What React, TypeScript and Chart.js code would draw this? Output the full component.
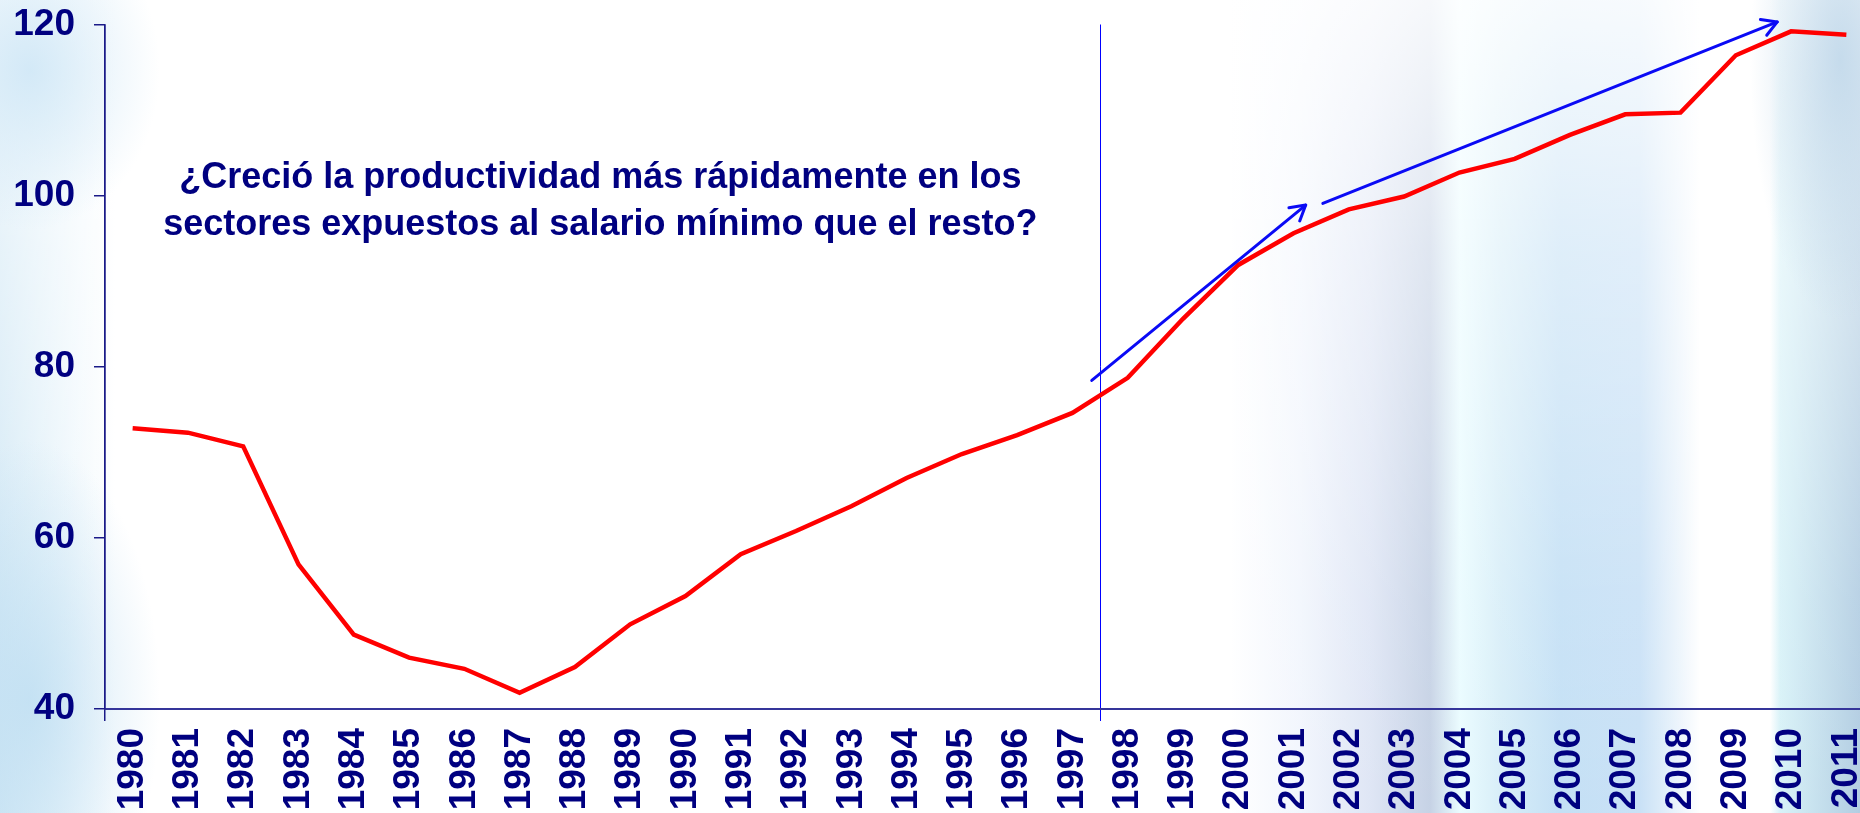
import React, { useEffect, useRef } from "react";
import { Chart, registerables } from "chart.js";

Chart.register(...registerables);

const years = [
  "1980", "1981", "1982", "1983", "1984", "1985", "1986", "1987", "1988", "1989",
  "1990", "1991", "1992", "1993", "1994", "1995", "1996", "1997", "1998", "1999",
  "2000", "2001", "2002", "2003", "2004", "2005", "2006", "2007", "2008", "2009",
  "2010", "2011",
];

const productivity = [
  72.8, 72.3, 70.7, 56.9, 48.7, 46.0, 44.7, 41.9, 44.9, 49.9,
  53.2, 58.1, 60.8, 63.7, 67.0, 69.8, 72.0, 74.6, 78.7, 85.6,
  91.9, 95.6, 98.4, 99.9, 102.7, 104.3, 107.1, 109.5, 109.7, 116.4,
  119.2, 118.8,
];

const yMin = 40;
const yMax = 120;
const yStep = 20;

// boundary index (between 1997 and 1998) where the vertical divider sits
const dividerIndex = 18;

// arrows in data units: [category index, value]
const arrowFromX = [17.35, 21.53];
const arrowFromY = [78.4, 99.1];
const arrowToX = [21.22, 29.75];
const arrowToY = [98.9, 120.3];

const questionLines = [
  "¿Creció la productividad más rápidamente en los",
  "sectores expuestos al salario mínimo que el resto?",
];
const questionX = 8.46;
const questionY = 100.85;

const NAVY = "#000080";
const FONT = '"Liberation Sans", Arial, Helvetica, sans-serif';

const annotationPlugin = {
  id: "annotations",
  afterDatasetsDraw(chart: any) {
    const { ctx, scales } = chart;
    const xs = scales.x;
    const ys = scales.y;
    ctx.save();
    ctx.strokeStyle = "#0a0af5";
    ctx.lineWidth = 3;
    ctx.lineCap = "round";
    ctx.lineJoin = "round";
    for (let i = 0; i < arrowFromX.length; i++) {
      const x1 = xs.getPixelForValue(arrowFromX[i]);
      const y1 = ys.getPixelForValue(arrowFromY[i]);
      const x2 = xs.getPixelForValue(arrowToX[i]);
      const y2 = ys.getPixelForValue(arrowToY[i]);
      ctx.beginPath();
      ctx.moveTo(x1, y1);
      ctx.lineTo(x2, y2);
      ctx.stroke();
      const ang = Math.atan2(y2 - y1, x2 - x1);
      const head = 17;
      const spread = Math.PI / 6;
      ctx.beginPath();
      ctx.moveTo(x2 - head * Math.cos(ang - spread), y2 - head * Math.sin(ang - spread));
      ctx.lineTo(x2, y2);
      ctx.lineTo(x2 - head * Math.cos(ang + spread), y2 - head * Math.sin(ang + spread));
      ctx.stroke();
    }
    ctx.fillStyle = NAVY;
    ctx.font = `bold 36px ${FONT}`;
    ctx.textAlign = "center";
    ctx.textBaseline = "alphabetic";
    const cx = xs.getPixelForValue(questionX);
    const cy = ys.getPixelForValue(questionY);
    questionLines.forEach((line, i) => {
      ctx.fillText(line, cx, cy + i * 46.5);
    });
    ctx.restore();
  },
};

export default function App() {
  const canvasRef = useRef<HTMLCanvasElement | null>(null);

  useEffect(() => {
    if (!canvasRef.current) return;
    Chart.defaults.font.family = FONT;
    const chart = new Chart(canvasRef.current, {
      type: "line",
      data: {
        labels: years,
        datasets: [
          {
            data: productivity,
            borderColor: "#ff0000",
            borderWidth: 4.5,
            pointRadius: 0,
            tension: 0,
            fill: false,
          },
        ],
      },
      options: {
        animation: false,
        responsive: false,
        maintainAspectRatio: false,
        layout: { padding: { top: 24.5, left: 0, right: 0, bottom: 0 } },
        plugins: {
          legend: { display: false },
          tooltip: { enabled: false },
          title: { display: false },
        },
        scales: {
          x: {
            type: "category",
            offset: true,
            afterFit: (scale: any) => {
              scale.height = 104;
              scale.paddingLeft = 0;
              scale.paddingRight = 0;
              scale.paddingTop = 0;
              scale.paddingBottom = 0;
            },
            border: { display: true, color: "#35359a", width: 2 },
            grid: {
              offset: true,
              drawOnChartArea: true,
              drawTicks: true,
              tickLength: 12,
              color: (c: any) =>
                c.index === 0 ? "#1a1a88" : c.index === dividerIndex ? "#0000ff" : "rgba(0,0,0,0)",
              lineWidth: (c: any) => (c.index === 0 ? 1.5 : 1),
            },
            ticks: {
              autoSkip: false,
              maxRotation: 90,
              minRotation: 90,
              padding: 7,
              color: NAVY,
              font: { size: 37, weight: "bold", family: FONT },
            },
          },
          y: {
            min: yMin,
            max: yMax,
            afterFit: (scale: any) => {
              scale.width = 105;
              scale.paddingLeft = 0;
              scale.paddingRight = 0;
              scale.paddingTop = 0;
              scale.paddingBottom = 0;
            },
            border: { display: true, color: "#1a1a88", width: 1.5 },
            grid: {
              drawOnChartArea: false,
              drawTicks: true,
              tickLength: 11,
              color: "#1a1a88",
              lineWidth: 1.5,
            },
            ticks: {
              stepSize: yStep,
              padding: 19,
              color: NAVY,
              font: { size: 37, weight: "bold", family: FONT },
            },
          },
        },
      },
      plugins: [annotationPlugin],
    });
    return () => chart.destroy();
  }, []);

  const background = [
    "radial-gradient(ellipse 130px 160px at 30px 70px, rgba(205,230,246,0.85), rgba(205,230,246,0))",
    "radial-gradient(ellipse 130px 260px at 30px 700px, rgba(190,222,242,0.8), rgba(190,222,242,0))",
    "radial-gradient(ellipse 90px 260px at 1840px 60px, rgba(180,208,230,0.7), rgba(180,208,230,0))",
    "linear-gradient(to bottom, rgba(255,255,255,0.85) 0px, rgba(255,255,255,0.45) 250px, rgba(255,255,255,0.1) 600px, rgba(255,255,255,0) 813px)",
    "linear-gradient(to right, #d2e8f5 0px, #e2f1f9 40px, #f2f9fd 80px, #ffffff 115px, #ffffff 1230px, #f2f6fd 1300px, #dfe6f5 1370px, #c6d2e5 1430px, #eafcff 1460px, #d8eef8 1500px, #c4e0f5 1560px, #c9e1f6 1640px, #ffffff 1700px, #ffffff 1770px, #d8f2f8 1780px, #b2cde2 1860px)",
  ].join(", ");

  return (
    <div
      style={{
        position: "fixed",
        left: 0,
        top: 0,
        width: 1860,
        height: 813,
        overflow: "hidden",
        background,
      }}
    >
      <canvas
        ref={canvasRef}
        width={1874}
        height={813}
        style={{ display: "block", width: 1874, height: 813 }}
      />
    </div>
  );
}
